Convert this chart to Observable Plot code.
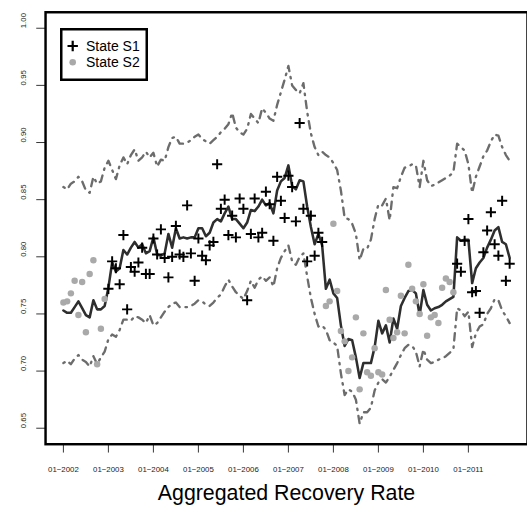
<!DOCTYPE html>
<html>
<head>
<meta charset="utf-8">
<script src="https://cdn.jsdelivr.net/npm/d3@7"></script>
<script src="https://cdn.jsdelivr.net/npm/@observablehq/plot@0.6"></script>
<style>
  html, body { margin: 0; padding: 0; background: #fff; overflow: hidden; }
  #chart { position: relative; width: 527px; height: 521px; overflow: hidden;
           font-family: "Liberation Sans", Arial, Helvetica, sans-serif; }
  #legend { position: absolute; left: 60px; top: 28px; }
</style>
</head>
<body>
<div id="chart"></div>
<script>
// Monthly aggregated recovery rate, 01-2002 .. 12-2011 (120 months)
const stateNames = ["State S1", "State S2"];

// Tick positions (month index) and their labels
const xTickMonths = [0, 12, 24, 36, 48, 60, 72, 84, 96, 108];
const xTickLabels = ["01−2002", "01−2003", "01−2004", "01−2005", "01−2006",
                     "01−2007", "01−2008", "01−2009", "01−2010", "01−2011"];
const yTicks = [0.65, 0.70, 0.75, 0.80, 0.85, 0.90, 0.95, 1.00];

// Fitted rate (solid line)
const fitted = [
  0.753, 0.751, 0.751, 0.756, 0.761, 0.755, 0.749, 0.747, 0.762, 0.754, 0.754, 0.757,
  0.773, 0.795, 0.787, 0.790, 0.806, 0.802, 0.808, 0.813, 0.808, 0.811, 0.803, 0.805,
  0.817, 0.802, 0.801, 0.803, 0.820, 0.808, 0.825, 0.816, 0.817, 0.816, 0.817, 0.817,
  0.825, 0.825, 0.818, 0.821, 0.830, 0.833, 0.831, 0.838, 0.844, 0.833, 0.833, 0.829,
  0.825, 0.830, 0.841, 0.840, 0.844, 0.850, 0.845, 0.847, 0.838, 0.858, 0.866, 0.869,
  0.880, 0.862, 0.859, 0.867, 0.866, 0.844, 0.826, 0.811, 0.820, 0.810, 0.772, 0.780,
  0.768, 0.764, 0.740, 0.722, 0.728, 0.727, 0.712, 0.694, 0.707, 0.707, 0.707, 0.721,
  0.744, 0.733, 0.740, 0.725, 0.746, 0.737, 0.757, 0.764, 0.770, 0.771, 0.768, 0.749,
  0.771, 0.758, 0.753, 0.755, 0.756, 0.758, 0.761, 0.763, 0.765, 0.817, 0.814, 0.815,
  0.815, 0.777, 0.790, 0.795, 0.799, 0.808, 0.815, 0.823, 0.826, 0.813, 0.811, 0.799
];

// Upper band (dot-dash)
const upper = [
  0.861, 0.859, 0.864, 0.866, 0.870, 0.866, 0.858, 0.856, 0.870, 0.864, 0.866, 0.878,
  0.884, 0.876, 0.868, 0.880, 0.887, 0.881, 0.889, 0.894, 0.884, 0.887, 0.892, 0.887,
  0.891, 0.879, 0.885, 0.884, 0.896, 0.904, 0.905, 0.899, 0.899, 0.900, 0.902, 0.905,
  0.907, 0.903, 0.901, 0.899, 0.902, 0.905, 0.909, 0.912, 0.916, 0.926, 0.913, 0.909,
  0.907, 0.912, 0.925, 0.921, 0.917, 0.930, 0.926, 0.921, 0.919, 0.933, 0.944, 0.955,
  0.967, 0.950, 0.946, 0.943, 0.952, 0.927, 0.908, 0.896, 0.889, 0.892, 0.889, 0.887,
  0.882, 0.876, 0.858, 0.834, 0.833, 0.829, 0.820, 0.797, 0.807, 0.807, 0.815, 0.833,
  0.846, 0.845, 0.851, 0.832, 0.861, 0.860, 0.870, 0.878, 0.879, 0.881, 0.880, 0.861,
  0.884, 0.867, 0.862, 0.863, 0.865, 0.867, 0.869, 0.871, 0.874, 0.899, 0.896, 0.893,
  0.881, 0.856, 0.870, 0.879, 0.888, 0.893, 0.901, 0.907, 0.906, 0.896, 0.889, 0.884
];

// Lower band (dot-dash)
const lower = [
  0.707, 0.709, 0.706, 0.711, 0.714, 0.710, 0.708, 0.704, 0.713, 0.706, 0.712, 0.717,
  0.728, 0.732, 0.730, 0.736, 0.745, 0.745, 0.744, 0.748, 0.747, 0.745, 0.742, 0.749,
  0.740, 0.742, 0.747, 0.752, 0.756, 0.759, 0.760, 0.756, 0.756, 0.756, 0.757, 0.759,
  0.762, 0.761, 0.758, 0.757, 0.760, 0.764, 0.767, 0.774, 0.780, 0.774, 0.769, 0.766,
  0.763, 0.770, 0.779, 0.773, 0.780, 0.783, 0.779, 0.782, 0.774, 0.790, 0.799, 0.805,
  0.810, 0.796, 0.793, 0.800, 0.803, 0.783, 0.764, 0.750, 0.739, 0.740, 0.736, 0.727,
  0.725, 0.722, 0.698, 0.679, 0.684, 0.682, 0.675, 0.654, 0.664, 0.664, 0.668, 0.683,
  0.690, 0.693, 0.690, 0.695, 0.701, 0.707, 0.714, 0.720, 0.723, 0.722, 0.717, 0.704,
  0.719, 0.710, 0.707, 0.708, 0.710, 0.711, 0.713, 0.716, 0.719, 0.755, 0.753, 0.748,
  0.752, 0.721, 0.733, 0.739, 0.741, 0.750, 0.755, 0.763, 0.762, 0.753, 0.748, 0.742
];

// Observed rate and the state it was classified in (1 = S1, 2 = S2)
const observed = [
  0.760, 0.761, 0.768, 0.779, 0.749, 0.778, 0.734, 0.785, 0.797, 0.706, 0.737, 0.763,
  0.772, 0.796, 0.790, 0.776, 0.819, 0.754, 0.791, 0.787, 0.795, 0.808, 0.785, 0.785,
  0.816, 0.802, 0.824, 0.799, 0.782, 0.800, 0.827, 0.802, 0.800, 0.845, 0.803, 0.779,
  0.816, 0.801, 0.797, 0.810, 0.813, 0.881, 0.842, 0.850, 0.819, 0.836, 0.817, 0.851,
  0.842, 0.762, 0.820, 0.851, 0.817, 0.821, 0.857, 0.846, 0.814, 0.870, 0.849, 0.834,
  0.871, 0.861, 0.831, 0.917, 0.842, 0.796, 0.836, 0.801, 0.821, 0.813, 0.757, 0.761,
  0.829, 0.770, 0.735, 0.726, 0.700, 0.712, 0.747, 0.684, 0.733, 0.699, 0.696, 0.720,
  0.699, 0.697, 0.771, 0.745, 0.729, 0.734, 0.766, 0.733, 0.793, 0.772, 0.761, 0.750,
  0.776, 0.731, 0.747, 0.749, 0.742, 0.773, 0.781, 0.778, 0.769, 0.794, 0.787, 0.814,
  0.833, 0.769, 0.770, 0.751, 0.804, 0.823, 0.839, 0.811, 0.801, 0.849, 0.779, 0.794
];
const state = [
  2, 2, 2, 2, 2, 2, 2, 2, 2, 2, 2, 2,
  1, 1, 1, 1, 1, 1, 1, 1, 1, 1, 1, 1,
  1, 1, 1, 1, 1, 1, 1, 1, 1, 1, 1, 1,
  1, 1, 1, 1, 1, 1, 1, 1, 1, 1, 1, 1,
  1, 1, 1, 1, 1, 1, 1, 1, 1, 1, 1, 1,
  1, 1, 1, 1, 1, 1, 1, 1, 1, 1, 2, 2,
  2, 2, 2, 2, 2, 2, 2, 2, 2, 2, 2, 2,
  2, 2, 2, 2, 2, 2, 2, 2, 2, 2, 2, 2,
  2, 2, 2, 2, 2, 2, 2, 2, 2, 1, 1, 1,
  1, 1, 1, 1, 1, 1, 1, 1, 1, 1, 1, 1
];

const rows = fitted.map((v, i) => ({
  month: i, fit: v, up: upper[i], lo: lower[i], obs: observed[i], state: state[i]
}));

// R-style "+" (pch = 3): two stroked bars rather than a filled cross
const plusSymbol = {
  draw(context, size) {
    const r = Math.sqrt(size / Math.PI);
    context.moveTo(-r, 0); context.lineTo(r, 0);
    context.moveTo(0, -r); context.lineTo(0, r);
  }
};

const colors = { fit: "#2e2e2e", band: "#6c6c6c", s1: "#000000", s2: "#a9a9a9" };
const dotDash = "1.5,6,7.5,6";

const chart = Plot.plot({
  width: 538,
  height: 521,
  marginLeft: 46,
  marginRight: 0,
  marginTop: 12,
  marginBottom: 68,
  style: { fontFamily: "Liberation Sans, Arial, Helvetica, sans-serif", background: "white" },
  x: { domain: [-4.76, 123.76] },
  y: { domain: [0.636, 1.014] },
  marks: [
    Plot.line(rows, { x: "month", y: "up", stroke: colors.band, strokeWidth: 2.4,
      strokeDasharray: dotDash, strokeLinecap: "round", strokeLinejoin: "round" }),
    Plot.line(rows, { x: "month", y: "lo", stroke: colors.band, strokeWidth: 2.4,
      strokeDasharray: dotDash, strokeLinecap: "round", strokeLinejoin: "round" }),
    Plot.line(rows, { x: "month", y: "fit", stroke: colors.fit, strokeWidth: 2.6,
      strokeLinejoin: "round", strokeLinecap: "round" }),
    Plot.dot(rows.filter(d => d.state === 2), { x: "month", y: "obs", r: 3.3,
      fill: colors.s2, stroke: null }),
    Plot.dot(rows.filter(d => d.state === 1), { x: "month", y: "obs", r: 5.2,
      symbol: plusSymbol, fill: "none", stroke: colors.s1, strokeWidth: 2 }),
    // axes: ticks from the scales, labels drawn as text
    Plot.axisX({ ticks: xTickMonths, tickSize: 9, tickFormat: () => "", label: null, stroke: "#333" }),
    Plot.text(xTickMonths, { x: d => d, text: (d, i) => xTickLabels[i],
      frameAnchor: "bottom", dy: 28, fontSize: 8, fill: "#222" }),
    Plot.axisY({ ticks: yTicks, tickSize: 9, tickFormat: () => "", label: null, stroke: "#333" }),
    Plot.text(yTicks, { y: d => d, text: d => d.toFixed(2), frameAnchor: "left",
      dx: -23, rotate: -90, fontSize: 8, fill: "#222" }),
    Plot.frame({ stroke: "black", strokeWidth: 2.5 }),
    Plot.text(["Aggregated Recovery Rate"], { frameAnchor: "bottom", dy: 57,
      fontSize: 21.8, fill: "black" })
  ]
});
document.getElementById("chart").appendChild(chart);

// Legend box in the top-left corner of the plot
const legend = d3.select("#chart").append("svg")
  .attr("id", "legend").attr("width", 88).attr("height", 53);
legend.append("rect")
  .attr("x", 1.25).attr("y", 1.25).attr("width", 85.5).attr("height", 50.5)
  .attr("fill", "white").attr("stroke", "black").attr("stroke-width", 2.5);
const entries = legend.selectAll("g.entry").data(stateNames).join("g")
  .attr("class", "entry")
  .attr("transform", (d, i) => `translate(12.7,${18 + i * 16.3})`);
entries.filter((d, i) => i === 0).append("path")
  .attr("d", "M-5.2,0H5.2M0,-5.2V5.2")
  .attr("stroke", colors.s1).attr("stroke-width", 2.2).attr("fill", "none");
entries.filter((d, i) => i === 1).append("circle")
  .attr("r", 3.3).attr("fill", colors.s2);
entries.append("text")
  .attr("x", 13.3).attr("y", 5)
  .attr("font-size", 14)
  .attr("font-family", "Liberation Sans, Arial, Helvetica, sans-serif")
  .attr("fill", "black")
  .text(d => d);
</script>
</body>
</html>
